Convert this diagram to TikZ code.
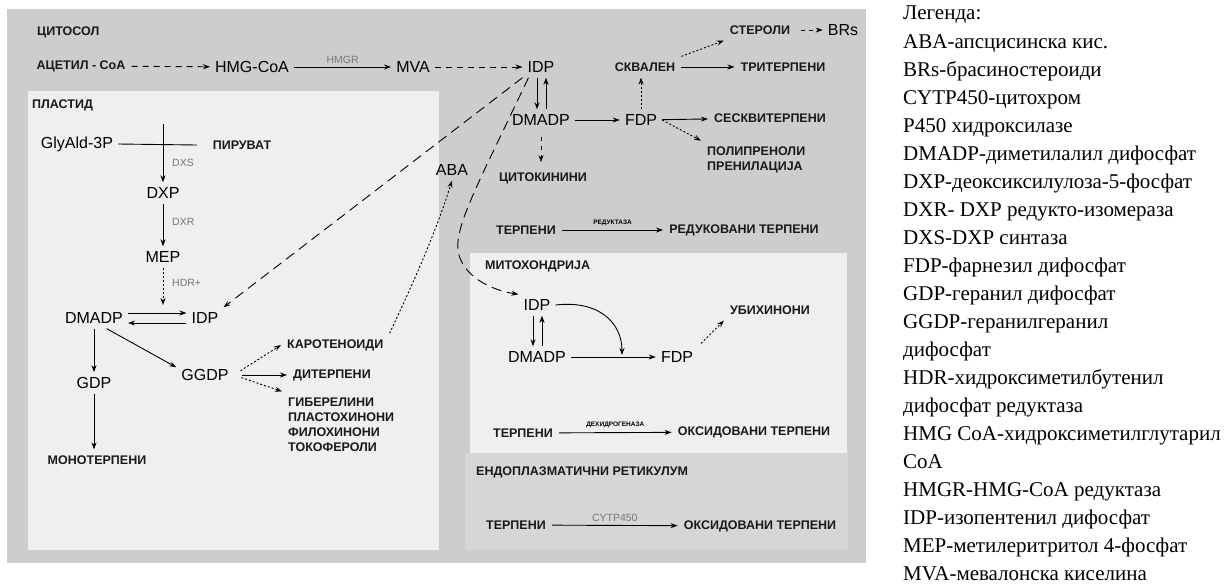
\documentclass[tikz,border=0pt]{standalone}
\usepackage{fontspec}
\setmainfont{Liberation Serif}
\newfontfamily\arial{Liberation Sans}
\usetikzlibrary{arrows.meta}
\definecolor{cytogray}{HTML}{CDCDCD}
\definecolor{orgbg}{HTML}{EFEFEF}
\definecolor{ergray}{HTML}{D6D6D6}
\definecolor{enzgray}{HTML}{777777}

\begin{document}
\begin{tikzpicture}[x=1pt,y=-1pt,
    bigtxt/.style={font=\arial\fontsize{16}{18}\selectfont, inner sep=5pt},
    lbl/.style={font=\arial\bfseries\fontsize{12.5}{15}\selectfont, text=black!90, inner sep=6pt},
    title/.style={lbl, anchor=west, inner sep=0pt},
    enzyme/.style={font=\arial\fontsize{10.5}{12}\selectfont, text=enzgray, inner sep=2pt},
    tinytxt/.style={font=\arial\bfseries\fontsize{6.5}{8}\selectfont, inner sep=1pt},
    arr/.style={-{Stealth[length=7pt,width=5pt]}, line width=0.9pt},
    dsharr/.style={arr, dash pattern=on 6pt off 5pt},
    longdsh/.style={arr, dash pattern=on 10pt off 6pt},
    dotarr/.style={arr, dash pattern=on 2pt off 2pt}]
    \useasboundingbox (0,0) rectangle (1231,587);
    % compartments
    \fill[cytogray] (7,9) rectangle (866,563);
    \fill[orgbg] (28,91) rectangle (439,550);
    \fill[ergray] (465,453) rectangle (848,550);
    \fill[orgbg] (470,253) rectangle (847,453);

    % cytosol
    \node[title] (tcyt) at (37,32) {ЦИТОСОЛ};
    \node[lbl] (acetyl) at (81,66) {АЦЕТИЛ - CoA};
    \node[bigtxt] (hmgcoa) at (252,67) {HMG-CoA};
    \node[bigtxt] (mva) at (413,67) {MVA};
    \node[bigtxt] (idp) at (541,67) {IDP};
    \node[bigtxt] (dmadp) at (541,120) {DMADP};
    \node[bigtxt] (fdp) at (641,120) {FDP};
    \node[lbl] (skvalen) at (645,67) {СКВАЛЕН};
    \node[lbl] (triterp) at (783,67) {ТРИТЕРПЕНИ};
    \node[lbl] (sterol) at (760,30) {СТЕРОЛИ};
    \node[bigtxt] (brs) at (843,30) {BRs};
    \node[lbl] (seskvi) at (770,118) {СЕСКВИТЕРПЕНИ};
    \node[lbl, anchor=west, align=left] (poli) at (701,160) {ПОЛИПРЕНОЛИ\\ПРЕНИЛАЦИЈА};
    \node[lbl] (cito) at (543,178) {ЦИТОКИНИНИ};
    \node[bigtxt] (aba) at (452,170) {ABA};
    \node[lbl] (terpr) at (526,230) {ТЕРПЕНИ};
    \node[lbl] (redterp) at (744,230) {РЕДУКОВАНИ ТЕРПЕНИ};

    \draw[dsharr] (acetyl) -- (hmgcoa);
    \draw[arr] (hmgcoa) -- node[enzyme, above=1pt] (hmgr) {HMGR} (mva);
    \draw[dsharr] (mva) -- (idp);
    \draw[arr] ([xshift=-4pt]idp.south) -- ([xshift=-4pt]dmadp.north);
    \draw[arr] ([xshift=5pt]dmadp.north) -- ([xshift=5pt]idp.south);
    \draw[arr] (dmadp) -- (fdp);
    \draw[dotarr] (fdp.north) -- (fdp.north |- skvalen.south);
    \draw[arr] (skvalen) -- (triterp);
    \draw[dotarr] (skvalen.north east) -- (sterol.south west);
    \draw[arr, dash pattern=on 4pt off 4pt, shorten <=5pt] (sterol) -- (brs);
    \draw[arr] (fdp) -- (seskvi);
    \draw[dotarr] (fdp.east) -- (poli.north west);
    \draw[arr, dash pattern=on 4pt off 5pt, shorten <=6pt, shorten >=4pt] (dmadp.south) -- (dmadp.south |- cito.north);
    \draw[arr] (terpr) -- node[tinytxt, above=3pt] (redukt) {РЕДУКТАЗА} (redterp);

    % plastid
    \node[title] (tpla) at (32,105) {ПЛАСТИД};
    \node[bigtxt] (glyald) at (77,144) {GlyAld-3P};
    \node[lbl] (piruvat) at (242,145) {ПИРУВАТ};
    \coordinate (cross) at (163,124);
    \coordinate (pirend) at (197,145);
    \node[bigtxt] (dxp) at (163,193) {DXP};
    \node[bigtxt] (mep) at (163,257) {MEP};
    \coordinate (hdrend) at (163,305);
    \node[enzyme, anchor=west] (dxs) at (170,163) {DXS};
    \node[enzyme, anchor=west] (dxr) at (170,222) {DXR};
    \node[enzyme, anchor=west] (hdr) at (170,283) {HDR+};
    \node[bigtxt] (pdmadp) at (94,318) {DMADP};
    \node[bigtxt] (pidp) at (205,318) {IDP};
    \node[bigtxt] (gdp) at (94,383) {GDP};
    \node[lbl] (mono) at (97,460) {МОНОТЕРПЕНИ};
    \node[bigtxt] (ggdp) at (205,375) {GGDP};
    \node[lbl, anchor=west] (karot) at (281,345) {КАРОТЕНОИДИ};
    \node[lbl, anchor=west] (diterp) at (287,375) {ДИТЕРПЕНИ};
    \node[lbl, anchor=west, align=left] (giber) at (282,424.5) {ГИБЕРЕЛИНИ\\ПЛАСТОХИНОНИ\\ФИЛОХИНОНИ\\ТОКОФЕРОЛИ};

    \draw[line width=0.9pt] (glyald.east) -- (pirend);
    \draw[arr] (cross) -- (dxp);
    \draw[arr] (dxp) -- (mep);
    \draw[dotarr] (mep) -- (hdrend);
    \draw[arr] ([yshift=5pt]pdmadp.east) -- ([yshift=5pt]pidp.west);
    \draw[arr] ([yshift=-5pt]pidp.west) -- ([yshift=-5pt]pdmadp.east);
    \draw[arr] (pdmadp) -- (gdp);
    \draw[arr] (gdp.south) -- (gdp.south |- mono.north);
    \draw[arr] (pdmadp.-40) -- (ggdp.165);
    \draw[dotarr, shorten <=8pt] (ggdp.east) -- (karot.west);
    \draw[arr, shorten <=8pt] (ggdp.east) -- (diterp.west);
    \draw[dotarr, shorten <=8pt] (ggdp.east) -- (giber.north west);
    \draw[dotarr] (karot.north east) .. controls (410,290) and (435,235) .. (aba.south);

    % mitochondria
    \node[title] (tmito) at (485,266) {МИТОХОНДРИЈА};
    \node[bigtxt] (midp) at (537,305) {IDP};
    \node[bigtxt] (mdmadp) at (537,357) {DMADP};
    \node[bigtxt] (mfdp) at (677,357) {FDP};
    \coordinate (mjoin) at (622,355);
    \node[lbl] (ubi) at (770,310) {УБИХИНОНИ};
    \node[lbl] (mterp) at (523,433) {ТЕРПЕНИ};
    \node[lbl] (oxterpm) at (754,432) {ОКСИДОВАНИ ТЕРПЕНИ};

    \draw[arr] ([xshift=-4pt]midp.south) -- ([xshift=-4pt]mdmadp.north);
    \draw[arr] ([xshift=5pt]mdmadp.north) -- ([xshift=5pt]midp.south);
    \draw[arr] (mdmadp) -- (mfdp);
    \draw[arr] (midp.east) .. controls (598,300) and (622,322) .. (mjoin);
    \draw[dotarr, shorten <=4pt] (mfdp.north east) -- (ubi.south west);
    \draw[arr] (mterp) -- node[tinytxt, above=3pt] (dehid) {ДЕХИДРОГЕНАЗА} (oxterpm);

    % endoplasmic reticulum
    \node[title] (ter) at (476,472) {ЕНДОПЛАЗМАТИЧНИ РЕТИКУЛУМ};
    \node[lbl] (eterp) at (516,525) {ТЕРПЕНИ};
    \node[lbl] (oxterpe) at (760,526) {ОКСИДОВАНИ ТЕРПЕНИ};
    \draw[arr] (eterp) -- node[enzyme, above=1pt] (cytp) {CYTP450} (oxterpe);

    % IDP transport between compartments
    \draw[longdsh] (idp.south west) -- (pidp.north east);
    \draw[longdsh] ([xshift=6pt]idp.south west) .. controls (480,180) and (455,225) .. (458,250)
        .. controls (461,275) and (490,290) .. (midp.north west);

    % legend
    \node[anchor=north west, inner sep=0pt, align=left, font=\fontsize{21}{28.05}\selectfont] (legend) at (903,6) {%
        Легенда:\\
        ABA-апсцисинска кис.\\
        BRs-брасиностероиди\\
        CYTP450-цитохром\\
        P450 хидроксилазе\\
        DMADP-диметилалил дифосфат\\
        DXP-деоксиксилулоза-5-фосфат\\
        DXR- DXP редукто-изомераза\\
        DXS-DXP синтаза\\
        FDP-фарнезил дифосфат\\
        GDP-геранил дифосфат\\
        GGDP-геранилгеранил\\
        дифосфат\\
        HDR-хидроксиметилбутенил\\
        дифосфат редуктаза\\
        HMG CoA-хидроксиметилглутарил\\
        CoA\\
        HMGR-HMG-CoA редуктаза\\
        IDP-изопентенил дифосфат\\
        MEP-метилеритритол 4-фосфат\\
        MVA-мевалонска киселина};
\end{tikzpicture}
\end{document}
